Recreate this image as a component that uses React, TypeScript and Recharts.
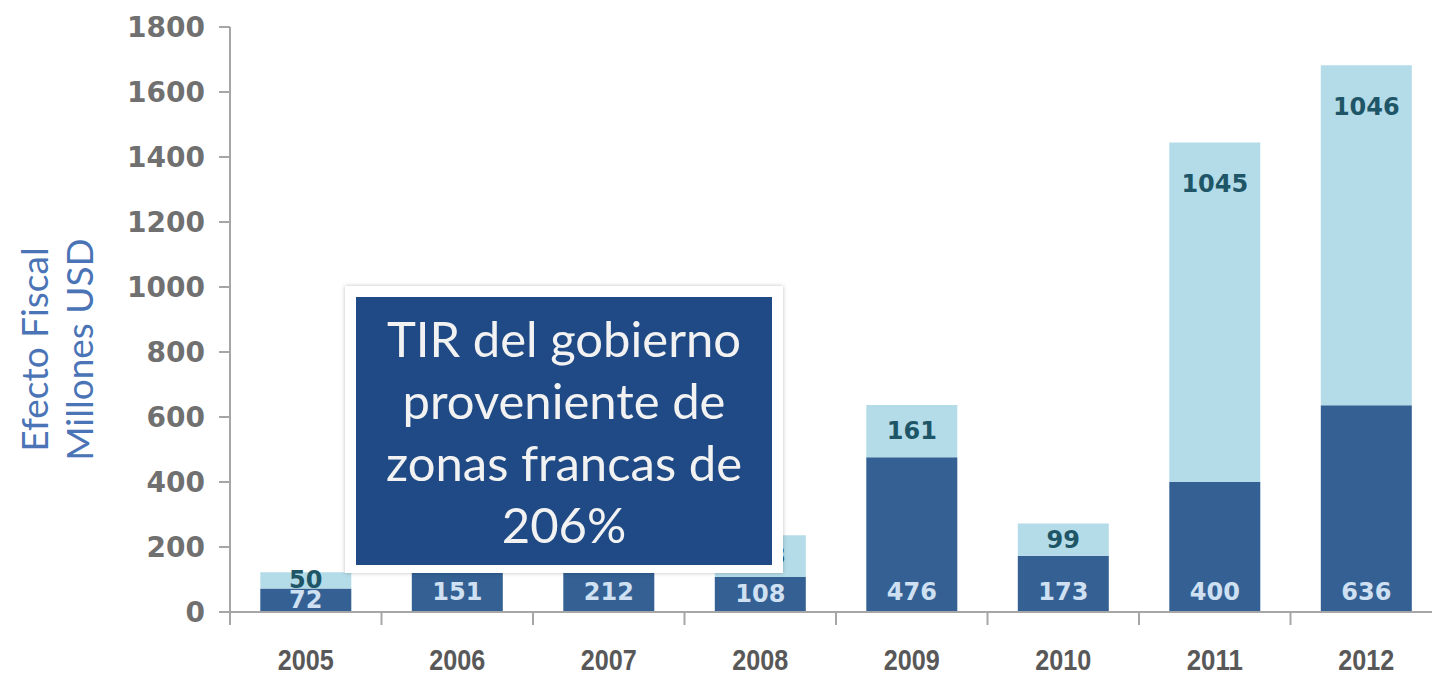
import React from 'react';
import { BarChart, Bar, XAxis, YAxis, LabelList } from 'recharts';

const years = ['2005', '2006', '2007', '2008', '2009', '2010', '2011', '2012'];
const baseValues = [72, 151, 212, 108, 476, 173, 400, 636];
const extraValues = [50, 70, 90, 128, 161, 99, 1045, 1046];
const yTicks = [0, 200, 400, 600, 800, 1000, 1200, 1400, 1600, 1800];

const data = years.map((y, i) => ({ year: y, base: baseValues[i], extra: extraValues[i] }));

const DARK = '#346094';
const LIGHT = '#b4dce8';
const AXIS = '#a6a6a6';

const XTick = (props: any) => {
  const { x, y, payload } = props;
  const off = payload && typeof payload.offset === 'number' ? payload.offset : 0;
  return (
    <g>
      <line x1={x - off} x2={x - off} y1={y} y2={y + 13} stroke={AXIS} strokeWidth={2} />
      <text
        x={x}
        y={y + 58}
        textAnchor="middle"
        fill="#585858"
        fontFamily="'Liberation Sans', Arial, sans-serif"
        fontWeight="bold"
        fontSize={30}
        textLength={56}
        lengthAdjust="spacingAndGlyphs"
      >
        {payload.value}
      </text>
    </g>
  );
};

const baseLabel = (props: any) => {
  const { x, y, width, height, value } = props;
  const cy = Math.max(y + height / 2, y + height - 20);
  return (
    <text
      x={x + width / 2}
      y={cy}
      textAnchor="middle"
      dominantBaseline="central"
      fill="#cfe0f2"
      fontFamily="'DejaVu Sans', sans-serif"
      fontWeight="bold"
      fontSize={24}
    >
      {value}
    </text>
  );
};

const extraLabel = (props: any) => {
  const { x, y, width, height, value } = props;
  const cy = Math.min(y + height / 2, y + 42);
  return (
    <text
      x={x + width / 2}
      y={cy}
      textAnchor="middle"
      dominantBaseline="central"
      fill="#1e5668"
      fontFamily="'DejaVu Sans', sans-serif"
      fontWeight="bold"
      fontSize={24}
    >
      {value}
    </text>
  );
};

const YLabel = (props: any) => {
  const vb = props.viewBox || { y: 27, height: 585 };
  const cy = vb.y + vb.height / 2 + 30;
  const common = {
    fill: '#4a74b6',
    fontFamily: 'Lato, sans-serif',
    fontSize: 37,
    textAnchor: 'middle' as const,
    dominantBaseline: 'central' as const,
  };
  return (
    <g>
      <text {...common} x={33} y={cy} transform={`rotate(-90, 33, ${cy})`}>Efecto Fiscal</text>
      <text {...common} x={78} y={cy} transform={`rotate(-90, 78, ${cy})`}>Millones USD</text>
    </g>
  );
};

export default function App() {
  return (
    <div style={{ position: 'absolute', left: 0, top: 0, width: 1432, height: 687, overflow: 'hidden', background: '#fff' }}>
      <BarChart
        width={1460}
        height={687}
        data={data}
        margin={{ top: 27, right: 18, bottom: 0, left: 0 }}
        barCategoryGap="20%"
      >
        <XAxis
          dataKey="year"
          height={75}
          tickSize={0}
          tickMargin={0}
          tickLine={false}
          axisLine={{ stroke: AXIS, strokeWidth: 2 }}
          tick={<XTick />}
          interval={0}
        />
        <YAxis
          width={230}
          domain={[0, 1800]}
          ticks={yTicks}
          interval={0}
          tickSize={11}
          tickMargin={14}
          axisLine={{ stroke: AXIS, strokeWidth: 2 }}
          tickLine={{ stroke: AXIS, strokeWidth: 2 }}
          tick={{ fill: '#707070', fontFamily: "'DejaVu Sans', sans-serif", fontWeight: 'bold', fontSize: 28 }}
          label={<YLabel />}
        />
        <Bar dataKey="base" stackId="a" fill={DARK} isAnimationActive={false}>
          <LabelList dataKey="base" content={baseLabel} />
        </Bar>
        <Bar dataKey="extra" stackId="a" fill={LIGHT} isAnimationActive={false}>
          <LabelList dataKey="extra" content={extraLabel} />
        </Bar>
      </BarChart>
      <div
        style={{
          position: 'absolute',
          left: 345,
          top: 286,
          width: 416,
          height: 268,
          padding: '11px 11px 8px 11px',
          background: '#ffffff',
          boxShadow: '0 0 4px rgba(0,0,0,0.25)',
        }}
      >
        <div
          style={{
            width: 416,
            height: 268,
            background: '#1f4a85',
            color: '#f2f2f2',
            fontFamily: 'Lato, sans-serif',
            fontSize: 49,
            lineHeight: '62px',
            textAlign: 'center',
            paddingTop: 10,
            boxSizing: 'border-box',
            whiteSpace: 'nowrap',
          }}
        >
          TIR del gobierno
          <br />
          proveniente de
          <br />
          zonas francas de
          <br />
          206%
        </div>
      </div>
    </div>
  );
}
